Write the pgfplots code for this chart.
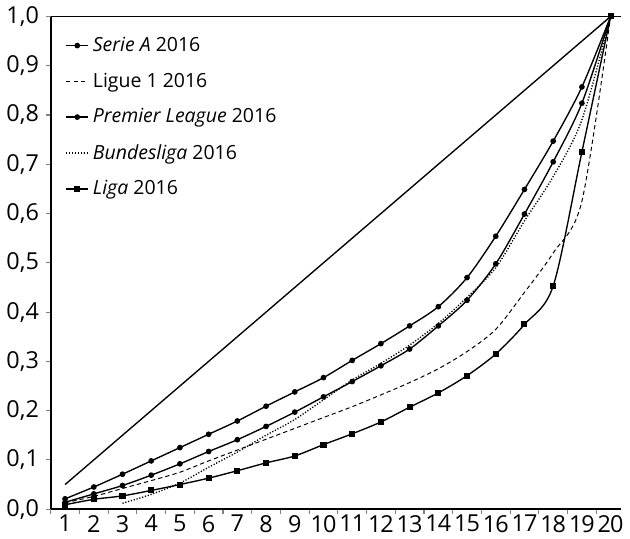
\documentclass[border=0pt]{standalone}
\usepackage{pgfplots}
\pgfplotsset{compat=1.18}
\usepackage{fontspec}
\setmainfont{Open Sans}

\begin{document}
\begin{tikzpicture}
\begin{axis}[
  scale only axis,
  width=291.5bp, height=252bp,
  xmin=0.5, xmax=20.35, ymin=0, ymax=1,
  axis lines*=left,
  axis line style={line width=0.8pt, -},
  xtick={1,...,20},
  major x tick style={draw=none},
  minor xtick={0.5,1.5,...,20.5},
  minor x tick style={line width=0.6pt},
  ytick={0,0.1,...,1.0},
  extra y ticks={1},
  extra y tick labels={},
  extra y tick style={grid=major, major grid style={black, line width=0.7pt}},
  tick align=outside,
  major tick length=2.5bp, minor tick length=2.5bp,
  ytick style={line width=0.6pt},
  yticklabel style={/pgf/number format/.cd, fixed, fixed zerofill, precision=1, use comma, assume math mode=true},
  tick label style={font=\fontsize{12}{14}\selectfont},
  xticklabel style={/pgf/number format/assume math mode=true, yshift=3bp,
    font=\fontsize{12}{14}\selectfont\addfontfeatures{LetterSpace=-4}},
  clip=false,
  legend style={at={(0.015,0.975)}, anchor=north west, draw=none, fill=none,
    font=\fontsize{10}{12}\selectfont, row sep=5.5bp},
  legend cell align=left,
  legend image code/.code={\draw[mark repeat=2,mark phase=2] plot coordinates {(0cm,0cm) (0.2cm,0cm) (0.4cm,0cm)};},
  every axis plot/.append style={line width=0.7pt, black},
]
% equality line
\addplot[forget plot, mark=none] coordinates {(1,0.05) (20,1)};
% Serie A
\addplot[smooth, mark=*, mark size=1.1pt] coordinates {
(1,0.021) (2,0.045) (3,0.071) (4,0.098) (5,0.125) (6,0.152) (7,0.179) (8,0.209) (9,0.238) (10,0.267)
(11,0.302) (12,0.336) (13,0.372) (14,0.411) (15,0.470) (16,0.554) (17,0.649) (18,0.747) (19,0.857) (20,1.0)};
% Ligue 1
\addplot[smooth, line width=0.5pt, mark=none, dash pattern=on 2.2pt off 1.6pt] coordinates {
(1,0.013) (2,0.026) (3,0.042) (4,0.058) (5,0.075) (6,0.098) (7,0.120) (8,0.142) (9,0.164) (10,0.186)
(11,0.208) (12,0.232) (13,0.257) (14,0.285) (15,0.320) (16,0.365) (17,0.440) (18,0.520) (19,0.625) (20,1.0)};
% Premier League
\addplot[smooth, mark=*, mark size=1.1pt] coordinates {
(1,0.014) (2,0.031) (3,0.048) (4,0.069) (5,0.092) (6,0.117) (7,0.141) (8,0.168) (9,0.197) (10,0.228)
(11,0.259) (12,0.291) (13,0.325) (14,0.372) (15,0.424) (16,0.498) (17,0.599) (18,0.705) (19,0.824) (20,1.0)};
% Bundesliga
\addplot[smooth, line width=0.7pt, mark=none, dash pattern=on 0.6pt off 0.9pt] coordinates {
(3,0.012) (4,0.030) (5,0.053) (6,0.085) (7,0.116) (8,0.150) (9,0.182) (10,0.222)
(11,0.262) (12,0.296) (13,0.333) (14,0.377) (15,0.430) (16,0.490) (17,0.585) (18,0.675) (19,0.790) (20,1.0)};
% Liga
\addplot[smooth, mark=square*, mark size=1.2pt] coordinates {
(1,0.009) (2,0.020) (3,0.027) (4,0.038) (5,0.050) (6,0.063) (7,0.078) (8,0.094) (9,0.108) (10,0.131)
(11,0.153) (12,0.177) (13,0.207) (14,0.236) (15,0.271) (16,0.315) (17,0.375) (18,0.453) (19,0.725) (20,1.0)};
\legend{\textit{Serie A} 2016, Ligue 1 2016, \textit{Premier League} 2016, \textit{Bundesliga} 2016, \textit{Liga} 2016}
\end{axis}
\end{tikzpicture}
\end{document}
